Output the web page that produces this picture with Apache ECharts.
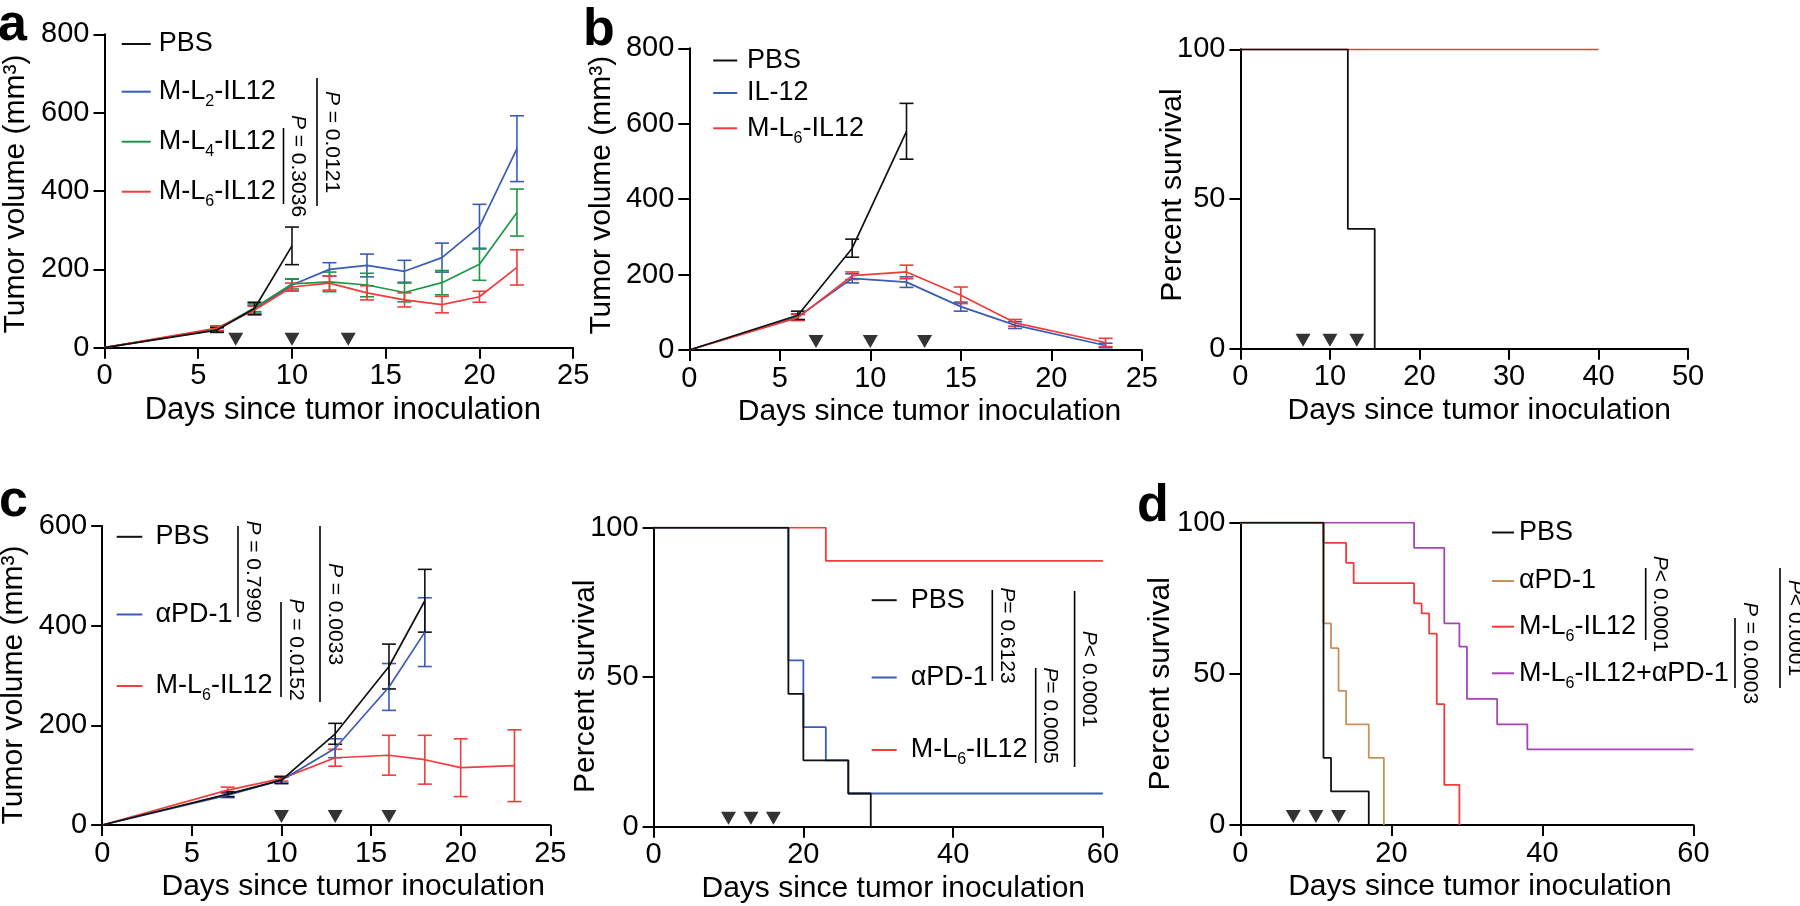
<!DOCTYPE html>
<html>
<head>
<meta charset="utf-8">
<title>Tumor growth and survival</title>
<script src="https://cdn.jsdelivr.net/npm/echarts@6.0.0/dist/echarts.min.js"></script>
<style>
html,body{margin:0;padding:0;background:#fff;}
#chart{width:1800px;height:906px;}
</style>
</head>
<body>
<div id="chart"></div>
<script>
// ===================== DATA =====================
const xTitle = 'Days since tumor inoculation';
const yTitleVolume = 'Tumor volume (mm³)';
const yTitleSurvival = 'Percent survival';

// Panel a – tumour growth (mean, SEM)
const aDays    = [0, 6, 8, 10, 12, 14, 16, 18, 20, 22];
const aPbsMean = [0, 45, 100, 260];
const aPbsSem  = [0, 6, 16, 48];
const aL2Mean  = [0, 47, 98, 160, 200, 210, 195, 230, 309, 508];
const aL2Sem   = [0, 6, 10, 15, 17, 29, 28, 37, 57, 84];
const aL4Mean  = [0, 48, 102, 163, 168, 160, 141, 166, 213, 345];
const aL4Sem   = [0, 6, 10, 13, 25, 30, 24, 31, 41, 60];
const aL6Mean  = [0, 50, 96, 155, 165, 140, 122, 110, 130, 205];
const aL6Sem   = [0, 6, 10, 10, 18, 18, 18, 21, 14, 45];
const aDoseDays = [7, 10, 13];
const aPvalues = ['P = 0.3036', 'P = 0.0121'];

// Panel b – tumour growth
const bDays     = [0, 6, 9, 12, 15, 18, 23];
const bPbsMean  = [0, 92, 270, 580];
const bPbsSem   = [0, 11, 24, 74];
const bIl12Mean = [0, 88, 190, 180, 115, 66, 12];
const bIl12Sem  = [0, 8, 12, 14, 12, 9, 6];
const bL6Mean   = [0, 86, 197, 207, 145, 72, 20];
const bL6Sem    = [0, 8, 10, 18, 22, 9, 11];
const bDoseDays = [7, 10, 13];

// Panel b – survival
const bsPbsDays = [0, 12, 15];
const bsPbsPct  = [100, 40, 0];
const bsL6Days  = [0, 40];
const bsL6Pct   = [100, 100];
const bsDoseDays = [7, 10, 13];

// Panel c – tumour growth
const cDays     = [0, 7, 10, 13, 16, 18, 20, 23];
const cPbsMean  = [0, 62, 90, 183, 318, 450];
const cPbsSem   = [0, 5, 7, 21, 45, 63];
const cPd1Mean  = [0, 60, 90, 154, 277, 387];
const cPd1Sem   = [0, 5, 6, 19, 47, 69];
const cL6Mean   = [0, 70, 93, 135, 140, 131, 115, 119];
const cL6Sem    = [0, 6, 5, 17, 40, 49, 58, 72];
const cDoseDays = [10, 13, 16];
const cPvalues  = ['P = 0.7990', 'P = 0.0152', 'P = 0.0033'];

// Panel c – survival
const csPbsDays = [0, 18, 20, 26, 29];
const csPbsPct  = [100, 44.4, 22.2, 11.1, 0];
const csPd1Days = [0, 18, 20, 23, 26, 60];
const csPd1Pct  = [100, 55.6, 33.3, 22.2, 11.1, 11.1];
const csL6Days  = [0, 23, 60];
const csL6Pct   = [100, 88.9, 88.9];
const csDoseDays = [10, 13, 16];
const csPvalues = ['P= 0.6123', 'P= 0.0005', 'P< 0.0001'];

// Panel d – survival
const dPbsDays   = [0, 11, 12, 17];
const dPbsPct    = [100, 22.2, 11.1, 0];
const dPd1Days   = [0, 11, 12, 13, 14, 17, 19];
const dPd1Pct    = [100, 66.7, 58.5, 44.4, 33.3, 22.2, 0];
const dL6Days    = [0, 11, 14, 15, 23, 24, 25, 26, 27, 29];
const dL6Pct     = [100, 93.3, 86.7, 80, 73.3, 70, 63.3, 40, 13.3, 0];
const dComboDays = [0, 23, 27, 29, 30, 34, 38, 60];
const dComboPct  = [100, 91.7, 66.7, 59, 41.7, 33.3, 25, 25];
const dDoseDays  = [7, 10, 13];
const dPvalues   = ['P< 0.0001', 'P = 0.0003', 'P< 0.0001'];

// Legend labels (rich text: n = normal, s = subscript)
const labelOf = {
  'a PBS': '{n|PBS}', 'a L2': '{n|M-L}{s|2}{n|-IL12}', 'a L4': '{n|M-L}{s|4}{n|-IL12}', 'a L6': '{n|M-L}{s|6}{n|-IL12}',
  'b PBS': '{n|PBS}', 'b IL12': '{n|IL-12}', 'b L6': '{n|M-L}{s|6}{n|-IL12}',
  'c PBS': '{n|PBS}', 'c PD1': '{n|αPD-1}', 'c L6': '{n|M-L}{s|6}{n|-IL12}',
  'cs PBS': '{n|PBS}', 'cs PD1': '{n|αPD-1}', 'cs L6': '{n|M-L}{s|6}{n|-IL12}',
  'd PBS': '{n|PBS}', 'd PD1': '{n|αPD-1}', 'd L6': '{n|M-L}{s|6}{n|-IL12}', 'd Combo': '{n|M-L}{s|6}{n|-IL12+αPD-1}'
};

// ===================== STYLE / LAYOUT =====================
const FF = "'Liberation Sans', Arial, Helvetica, sans-serif";
const C = { black: '#111111', blue: '#3b5cb5', green: '#1e9846', red: '#f23b3b', tan: '#c6925a', purple: '#a346b4' };

const GRIDS = [
  { left: 104.5, top: 34.3, width: 468.7, height: 313.4 },
  { left: 689.3, top: 48.3, width: 452.5, height: 301.7 },
  { left: 1240.4, top: 49.3, width: 447.7, height: 299.4 },
  { left: 102.2, top: 526, width: 448.1, height: 299 },
  { left: 653.6, top: 527.7, width: 449.3, height: 299 },
  { left: 1240.4, top: 522.7, width: 453.1, height: 302.3 }
];
const XCFG = [
  { max: 25, interval: 5, shift: 4, fs: 31 },
  { max: 25, interval: 5, shift: 14, fs: 30 },
  { max: 50, interval: 10, shift: 15, fs: 30 },
  { max: 25, interval: 5, shift: 27, fs: 30 },
  { max: 60, interval: 20, shift: 15, fs: 30 },
  { max: 60, interval: 20, shift: 13, fs: 30 }
];
const YCFG = [
  { max: 800, interval: 200, name: yTitleVolume, gap: 74, fs: 30, shift: -3 },
  { max: 800, interval: 200, name: yTitleVolume, gap: 73, fs: 30, shift: 4 },
  { max: 100, interval: 50, name: yTitleSurvival, gap: 53, fs: 30, shift: 4 },
  { max: 600, interval: 200, name: yTitleVolume, gap: 73, fs: 30, shift: -9.5 },
  { max: 100, interval: 50, name: yTitleSurvival, gap: 53, fs: 30, shift: -9 },
  { max: 100, interval: 50, name: yTitleSurvival, gap: 65, fs: 30, shift: -10 }
];

// legend placement: [seriesName, lineLeft, lineWidth, textLeft, lineY]
const LEGEND_POS = [
  ['a PBS', 121.7, 29, 158.8, 45.5], ['a L2', 121.7, 29, 158.8, 91.7], ['a L4', 121.7, 29, 158.8, 141.7], ['a L6', 121.7, 29, 158.8, 191.7],
  ['b PBS', 713.2, 24, 747, 62], ['b IL12', 713.2, 24, 747, 94.5], ['b L6', 713.2, 24, 747, 128.3],
  ['c PBS', 116.7, 25.6, 155.5, 538.3], ['c PD1', 116.7, 25.6, 155.5, 616], ['c L6', 116.7, 25.6, 155.5, 686],
  ['cs PBS', 871.7, 25, 910.7, 601.7], ['cs PD1', 871.7, 25, 910.7, 679], ['cs L6', 871.7, 25, 910.7, 750],
  ['d PBS', 1492, 22, 1519, 534], ['d PD1', 1492, 22, 1519, 582.5], ['d L6', 1492, 22, 1519, 626.7], ['d Combo', 1492, 22, 1519, 673.3]
];

// p-value brackets: [lineX, y1, y2]
const P_POS = [
  [283.5, 128, 204], [317, 78, 206],
  [238, 526, 617], [281, 602, 697], [320, 526, 702],
  [992.3, 590, 681], [1035.7, 668, 763], [1074.6, 591, 767],
  [1645.7, 568, 640], [1735, 618, 688], [1780, 568, 688]
];
const P_TEXTS = [].concat(aPvalues, cPvalues, csPvalues, dPvalues);

const LETTERS = [['a', -2, 26], ['b', 583, 31], ['c', -1, 502], ['d', 1137, 507]];

// ===================== BUILDERS =====================
function pairs(xs, ys) { return ys.map((y, i) => [xs[i], y]); }

function growthLine(name, gi, xs, ys, color) {
  return { type: 'line', name, xAxisIndex: gi, yAxisIndex: gi, data: pairs(xs, ys),
    symbol: 'none', showSymbol: false, lineStyle: { color, width: 1.7 }, itemStyle: { color },
    z: 3, animation: false, silent: true };
}
function survLine(name, gi, xs, ys, color, z) {
  return { type: 'line', name, xAxisIndex: gi, yAxisIndex: gi, data: pairs(xs, ys), step: 'end',
    symbol: 'none', showSymbol: false, lineStyle: { color, width: 1.8 }, itemStyle: { color },
    z: z || 3, animation: false, silent: true };
}
function errBars(gi, xs, means, sems, color) {
  const data = means.map((m, i) => [xs[i], m, sems[i]]).filter(d => d[2] > 0);
  return { type: 'custom', xAxisIndex: gi, yAxisIndex: gi, data, encode: { x: 0, y: 1 },
    z: 3, silent: true, animation: false,
    renderItem: function (params, api) {
      const x = api.value(0), m = api.value(1), e = api.value(2);
      const p1 = api.coord([x, m + e]), p2 = api.coord([x, m - e]);
      const hw = 7, st = { stroke: color, lineWidth: 1.6 };
      return { type: 'group', children: [
        { type: 'line', shape: { x1: p1[0], y1: p1[1], x2: p2[0], y2: p2[1] }, style: st },
        { type: 'line', shape: { x1: p1[0] - hw, y1: p1[1], x2: p1[0] + hw, y2: p1[1] }, style: st },
        { type: 'line', shape: { x1: p2[0] - hw, y1: p2[1], x2: p2[0] + hw, y2: p2[1] }, style: st }
      ] };
    } };
}
function doses(gi, days) {
  return { type: 'scatter', xAxisIndex: gi, yAxisIndex: gi, data: days.map(d => [d, 0]),
    symbol: 'triangle', symbolRotate: 180, symbolSize: [15, 13], symbolOffset: [0, -8.5],
    itemStyle: { color: '#000' }, z: 6, silent: true, animation: false };
}

const axisCommon = {
  type: 'value', min: 0, nameLocation: 'middle', nameMoveOverlap: false,
  axisLine: { show: true, onZero: false, lineStyle: { color: '#000', width: 2 } },
  axisTick: { show: true, length: 11, lineStyle: { color: '#000', width: 2 } },
  splitLine: { show: false }
};
const xAxes = XCFG.map((c, gi) => Object.assign({}, axisCommon, {
  gridIndex: gi, max: c.max, interval: c.interval, name: xTitle, nameGap: 47,
  nameTextStyle: { fontSize: c.fs, color: '#000', fontFamily: FF, padding: [0, 0, 0, 2 * c.shift] },
  axisLabel: { fontSize: 29, color: '#000', fontFamily: FF, margin: 14 }
}));
const yAxes = YCFG.map((c, gi) => Object.assign({}, axisCommon, {
  gridIndex: gi, max: c.max, interval: c.interval, name: c.name, nameGap: c.gap, nameRotate: 90,
  nameTextStyle: { fontSize: c.fs, color: '#000', fontFamily: FF,
    padding: c.shift > 0 ? [0, 0, 0, 2 * c.shift] : [0, -2 * c.shift, 0, 0] },
  axisLabel: { fontSize: 29, color: '#000', fontFamily: FF, margin: 15 }
}));

const series = [
  // a
  growthLine('a L2', 0, aDays, aL2Mean, C.blue), errBars(0, aDays, aL2Mean, aL2Sem, C.blue),
  growthLine('a L4', 0, aDays, aL4Mean, C.green), errBars(0, aDays, aL4Mean, aL4Sem, C.green),
  growthLine('a L6', 0, aDays, aL6Mean, C.red), errBars(0, aDays, aL6Mean, aL6Sem, C.red),
  growthLine('a PBS', 0, aDays, aPbsMean, C.black), errBars(0, aDays, aPbsMean, aPbsSem, C.black),
  doses(0, aDoseDays),
  // b growth
  growthLine('b IL12', 1, bDays, bIl12Mean, C.blue), errBars(1, bDays, bIl12Mean, bIl12Sem, C.blue),
  growthLine('b L6', 1, bDays, bL6Mean, C.red), errBars(1, bDays, bL6Mean, bL6Sem, C.red),
  growthLine('b PBS', 1, bDays, bPbsMean, C.black), errBars(1, bDays, bPbsMean, bPbsSem, C.black),
  doses(1, bDoseDays),
  // b survival
  survLine('bs L6', 2, bsL6Days, bsL6Pct, C.red, 3),
  survLine('bs PBS', 2, bsPbsDays, bsPbsPct, C.black, 4),
  doses(2, bsDoseDays),
  // c growth
  growthLine('c L6', 3, cDays, cL6Mean, C.red), errBars(3, cDays, cL6Mean, cL6Sem, C.red),
  growthLine('c PD1', 3, cDays, cPd1Mean, C.blue), errBars(3, cDays, cPd1Mean, cPd1Sem, C.blue),
  growthLine('c PBS', 3, cDays, cPbsMean, C.black), errBars(3, cDays, cPbsMean, cPbsSem, C.black),
  doses(3, cDoseDays),
  // c survival
  survLine('cs L6', 4, csL6Days, csL6Pct, C.red, 3),
  survLine('cs PD1', 4, csPd1Days, csPd1Pct, C.blue, 3),
  survLine('cs PBS', 4, csPbsDays, csPbsPct, C.black, 4),
  doses(4, csDoseDays),
  // d survival
  survLine('d Combo', 5, dComboDays, dComboPct, C.purple, 3),
  survLine('d L6', 5, dL6Days, dL6Pct, C.red, 3),
  survLine('d PD1', 5, dPd1Days, dPd1Pct, C.tan, 3),
  survLine('d PBS', 5, dPbsDays, dPbsPct, C.black, 4),
  doses(5, dDoseDays)
];

const legends = LEGEND_POS.map(([name, lx, lw, tx, ly]) => {
  const lab = labelOf[name];
  const H = lab.indexOf('{s|') >= 0 ? 36 : 30;
  const pad = Math.max(0, tx - (lx + lw + 5));
  return {
    show: true, orient: 'vertical', left: lx, top: ly - H / 2, padding: 0, itemGap: 0,
    selectedMode: false, icon: 'rect', itemWidth: lw, itemHeight: 2,
    itemStyle: { borderWidth: 0 },
    data: [name], formatter: () => lab,
    textStyle: { color: '#000', fontSize: 27, fontFamily: FF, padding: [0, 0, 0, pad],
      rich: {
        n: { fontSize: 27, lineHeight: 30, fontFamily: FF, color: '#000' },
        s: { fontSize: 16, lineHeight: 16, padding: [20, 0, 0, 0], fontFamily: FF, color: '#000' }
      } }
  };
});

const graphics = [];
P_POS.forEach(([x, y1, y2], i) => {
  const t = P_TEXTS[i];
  graphics.push({ type: 'line', silent: true, shape: { x1: x, y1: y1, x2: x, y2: y2 },
    style: { stroke: '#000', lineWidth: 1.6 } });
  graphics.push({ type: 'text', silent: true, x: x + 14.5, y: (y1 + y2) / 2, rotation: -Math.PI / 2,
    style: { text: '{i|P}{n|' + t.slice(1) + '}', align: 'center', verticalAlign: 'middle',
      fontSize: 21, fontFamily: FF, fill: '#000',
      rich: { i: { fontSize: 21, fontFamily: FF, fontStyle: 'italic', fill: '#000' },
              n: { fontSize: 21, fontFamily: FF, fill: '#000' } } } });
});
LETTERS.forEach(([ch, x, y]) => {
  graphics.push({ type: 'text', silent: true, x, y,
    style: { text: ch, fontSize: 52, fontWeight: 'bold', fontFamily: FF, fill: '#000', align: 'left', verticalAlign: 'middle' } });
});

const chart = echarts.init(document.getElementById('chart'), null, { renderer: 'canvas' });
chart.setOption({
  backgroundColor: '#ffffff',
  animation: false,
  textStyle: { fontFamily: FF },
  grid: GRIDS.map(g => Object.assign({ containLabel: false, outerBoundsMode: 'none' }, g)),
  xAxis: xAxes,
  yAxis: yAxes,
  legend: legends,
  series: series,
  graphic: graphics
});
</script>
</body>
</html>
